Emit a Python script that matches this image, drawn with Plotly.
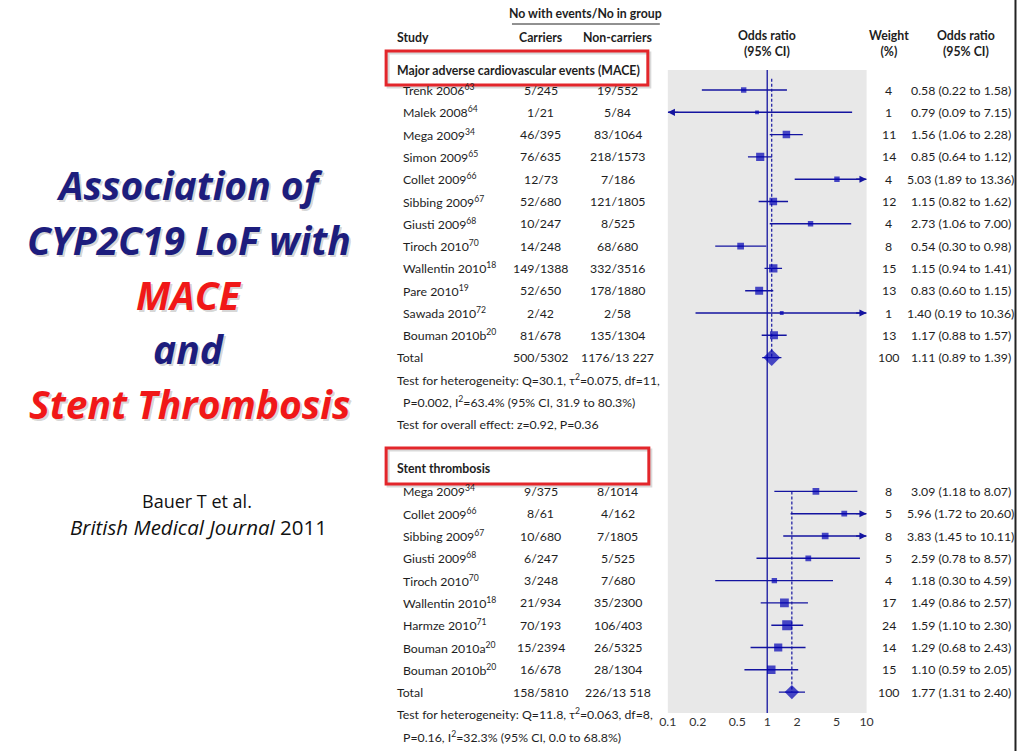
import math
import plotly.graph_objects as go

W, H = 1024, 751

# ---------------- data ----------------
mace_study = ["Trenk 2006", "Malek 2008", "Mega 2009", "Simon 2009", "Collet 2009", "Sibbing 2009",
              "Giusti 2009", "Tiroch 2010", "Wallentin 2010", "Pare 2010", "Sawada 2010", "Bouman 2010b"]
mace_ref = ["63", "64", "34", "65", "66", "67", "68", "70", "18", "19", "72", "20"]
mace_carriers = ["5/245", "1/21", "46/395", "76/635", "12/73", "52/680", "10/247", "14/248",
                 "149/1388", "52/650", "2/42", "81/678"]
mace_noncarriers = ["19/552", "5/84", "83/1064", "218/1573", "7/186", "121/1805", "8/525", "68/680",
                    "332/3516", "178/1880", "2/58", "135/1304"]
mace_weight = [4, 1, 11, 14, 4, 12, 4, 8, 15, 13, 1, 13]
mace_or = [0.58, 0.79, 1.56, 0.85, 5.03, 1.15, 2.73, 0.54, 1.15, 0.83, 1.40, 1.17]
mace_lo = [0.22, 0.09, 1.06, 0.64, 1.89, 0.82, 1.06, 0.30, 0.94, 0.60, 0.19, 0.88]
mace_hi = [1.58, 7.15, 2.28, 1.12, 13.36, 1.62, 7.00, 0.98, 1.41, 1.15, 10.36, 1.57]
mace_total_carriers = "500/5302"
mace_total_noncarriers = "1176/13 227"
mace_total_weight = 100
mace_total_or = 1.11
mace_total_lo = 0.89
mace_total_hi = 1.39
mace_stats = ["Test for heterogeneity: Q=30.1, τ<sup>2</sup>=0.075, df=11,",
              "P=0.002, I<sup>2</sup>=63.4% (95% CI, 31.9 to 80.3%)",
              "Test for overall effect: z=0.92, P=0.36"]

st_study = ["Mega 2009", "Collet 2009", "Sibbing 2009", "Giusti 2009", "Tiroch 2010", "Wallentin 2010",
            "Harmze 2010", "Bouman 2010a", "Bouman 2010b"]
st_ref = ["34", "66", "67", "68", "70", "18", "71", "20", "20"]
st_carriers = ["9/375", "8/61", "10/680", "6/247", "3/248", "21/934", "70/193", "15/2394", "16/678"]
st_noncarriers = ["8/1014", "4/162", "7/1805", "5/525", "7/680", "35/2300", "106/403", "26/5325", "28/1304"]
st_weight = [8, 5, 8, 5, 4, 17, 24, 14, 15]
st_or = [3.09, 5.96, 3.83, 2.59, 1.18, 1.49, 1.59, 1.29, 1.10]
st_lo = [1.18, 1.72, 1.45, 0.78, 0.30, 0.86, 1.10, 0.68, 0.59]
st_hi = [8.07, 20.60, 10.11, 8.57, 4.59, 2.57, 2.30, 2.43, 2.05]
st_total_carriers = "158/5810"
st_total_noncarriers = "226/13 518"
st_total_weight = 100
st_total_or = 1.77
st_total_lo = 1.31
st_total_hi = 2.40
st_stats = ["Test for heterogeneity: Q=11.8, τ<sup>2</sup>=0.063, df=8,",
            "P=0.16, I<sup>2</sup>=32.3% (95% CI, 0.0 to 68.8%)"]

tick_vals = [0.1, 0.2, 0.5, 1, 2, 5, 10]
tick_text = ["0.1", "0.2", "0.5", "1", "2", "5", "10"]
x_min, x_max = 0.1, 10

title_lines = [("Association of", "#1d1d7d"), ("CYP2C19 LoF with", "#1d1d7d"), ("MACE", "#f01818"),
               ("and", "#1d1d7d"), ("Stent Thrombosis", "#f01818")]

# ---------------- layout helpers ----------------
ROW0_PX, ROW_PX = 90.0, 22.3
FF = "Lato, sans-serif"
FS = 12.3
TXT = "#1e1e1e"
BLUE_LINE = "#1414a0"
BLUE_MARK = "#0000b4"
# the page is shown slightly narrowed; horizontal targets are corrected for it
SX, OX = 0.9854, 7.5


def row(px):
    return (px - ROW0_PX) / ROW_PX


def xp(px):
    return min(max((px - OX) / SX / W, 0), 1)


def yp(px):
    return 1 - px / H


X_STUDY, X_IND, X_CAR, X_NON, X_WT, X_OR, X_MID = 394, 400, 540, 617, 888, 960, 766
X_OR_HEAD = 965

mace_rows = list(range(len(mace_study)))
mace_total_row = len(mace_study)
st_first = mace_total_row + 6
st_rows = [st_first + i for i in range(len(st_study))]
st_total_row = st_first + len(st_study)

panel_top = row(70)
panel_bot = row(713)

annotations = []


def txt(xpx, yrow, s, anchor="left", size=FS, color=TXT, bold=False):
    annotations.append(dict(x=xp(xpx), y=yrow, xref="paper", yref="y", text=("<b>%s</b>" % s) if bold else s,
                            showarrow=False, xanchor=anchor, yanchor="middle",
                            font=dict(family=FF, size=size, color=color)))


def fmt_or(o, l, h):
    return "%.2f (%.2f to %.2f)" % (o, l, h)


# headers
txt(585, row(13), "No with events/No in group", "center", bold=True)
txt(X_STUDY, row(37), "Study", "left", bold=True)
txt(X_CAR, row(37), "Carriers", "center", bold=True)
txt(X_NON, row(37), "Non-carriers", "center", bold=True)
txt(X_MID, row(43.5), "Odds ratio<br>(95% CI)", "center", bold=True)
txt(X_WT, row(43.5), "Weight<br>(%)", "center", bold=True)
txt(X_OR_HEAD, row(43.5), "Odds ratio<br>(95% CI)", "center", bold=True)
txt(X_STUDY, row(70), "Major adverse cardiovascular events (MACE)", "left", bold=True)
txt(X_STUDY, row(468), "Stent thrombosis", "left", bold=True)


def section(studies, refs, car, non, wt, o, lo, hi, rows):
    for i, r in enumerate(rows):
        txt(X_IND, r, "%s<sup>%s</sup>" % (studies[i], refs[i]))
        txt(X_CAR, r, car[i], "center")
        txt(X_NON, r, non[i], "center")
        txt(X_WT, r, str(wt[i]), "center")
        txt(X_OR, r, fmt_or(o[i], lo[i], hi[i]), "center")


section(mace_study, mace_ref, mace_carriers, mace_noncarriers, mace_weight, mace_or, mace_lo, mace_hi, mace_rows)
section(st_study, st_ref, st_carriers, st_noncarriers, st_weight, st_or, st_lo, st_hi, st_rows)

for r, c, n, w, o, l, h in [(mace_total_row, mace_total_carriers, mace_total_noncarriers, mace_total_weight,
                             mace_total_or, mace_total_lo, mace_total_hi),
                            (st_total_row, st_total_carriers, st_total_noncarriers, st_total_weight,
                             st_total_or, st_total_lo, st_total_hi)]:
    txt(X_STUDY, r, "Total")
    txt(X_CAR, r, c, "center")
    txt(X_NON, r, n, "center")
    txt(X_WT, r, str(w), "center")
    txt(X_OR, r, fmt_or(o, l, h), "center")

txt(X_STUDY, mace_total_row + 1, mace_stats[0])
txt(X_IND, mace_total_row + 2, mace_stats[1])
txt(X_STUDY, mace_total_row + 3, mace_stats[2])
txt(X_STUDY, st_total_row + 1, st_stats[0])
txt(X_IND, st_total_row + 2, st_stats[1])

# left title
TITLE_FONT = "Open Sans, Lato, sans-serif"
for i, (s, col) in enumerate(title_lines):
    ypx = 185 + 54.5 * i
    for shadow in (True, False):
        annotations.append(dict(x=xp(188), y=yp(ypx), xref="paper", yref="paper",
                                text="<b><i>%s</i></b>" % s, showarrow=False,
                                xanchor="center", yanchor="middle",
                                xshift=2 if shadow else 0, yshift=-2 if shadow else 0,
                                font=dict(family=TITLE_FONT, size=39,
                                          color="rgba(0,0,0,0.18)" if shadow else col)))
annotations.append(dict(x=xp(196), y=yp(501), xref="paper", yref="paper", text="Bauer T et al.",
                        showarrow=False, xanchor="center", yanchor="middle",
                        font=dict(family=TITLE_FONT, size=18, color="#111")))
annotations.append(dict(x=xp(197), y=yp(527), xref="paper", yref="paper",
                        text="<i>British Medical Journal</i> 2011",
                        showarrow=False, xanchor="center", yanchor="middle",
                        font=dict(family=TITLE_FONT, size=20.5, color="#111")))

# ---------------- traces ----------------
fig = go.Figure()

all_or = mace_or + st_or
all_lo = mace_lo + st_lo
all_hi = mace_hi + st_hi
all_w = mace_weight + st_weight
all_rows = mace_rows + st_rows

cx, cy = [], []
for o, l, h, r in zip(all_or + [mace_total_or, st_total_or], all_lo + [mace_total_lo, st_total_lo],
                      all_hi + [mace_total_hi, st_total_hi], all_rows + [mace_total_row, st_total_row]):
    cx += [max(l, x_min), min(h, x_max), None]
    cy += [r, r, None]
    if h > x_max:
        annotations.append(dict(x=math.log10(x_max), y=r, xref="x", yref="y", ax=-12, ay=0,
                                axref="pixel", ayref="pixel", text="", showarrow=True,
                                arrowhead=2, arrowsize=1.1, arrowwidth=1.3, arrowcolor=BLUE_LINE))
    if l < x_min:
        annotations.append(dict(x=math.log10(x_min), y=r, xref="x", yref="y", ax=12, ay=0,
                                axref="pixel", ayref="pixel", text="", showarrow=True,
                                arrowhead=2, arrowsize=1.1, arrowwidth=1.3, arrowcolor=BLUE_LINE))

# reference lines
fig.add_trace(go.Scatter(x=[1, 1], y=[panel_top, panel_bot], mode="lines",
                         line=dict(color=BLUE_LINE, width=1.3), hoverinfo="skip", showlegend=False))
fig.add_trace(go.Scatter(x=[mace_total_or, mace_total_or, None, st_total_or, st_total_or],
                         y=[-0.5, mace_total_row, None, st_first, st_total_row], mode="lines",
                         line=dict(color=BLUE_LINE, width=1.2, dash="3px,2px"),
                         hoverinfo="skip", showlegend=False))
fig.add_trace(go.Scatter(x=cx, y=cy, mode="lines", line=dict(color=BLUE_LINE, width=1.4),
                         hoverinfo="skip", showlegend=False))
fig.add_trace(go.Scatter(x=all_or, y=all_rows, mode="markers",
                         marker=dict(symbol="square", color=BLUE_MARK,
                                     size=[1.6 * math.sqrt(w) + 2.2 for w in all_w], line=dict(width=0)),
                         showlegend=False))
fig.add_trace(go.Scatter(x=[mace_total_or, st_total_or], y=[mace_total_row, st_total_row], mode="markers",
                         marker=dict(symbol="diamond", color=BLUE_MARK, size=[13, 11], line=dict(width=0)),
                         showlegend=False))

shapes = [
    dict(type="rect", xref="x domain", yref="y", x0=0, x1=1, y0=panel_top, y1=panel_bot,
         fillcolor="#e8e8e8", line=dict(width=0), layer="below"),
    dict(type="line", xref="paper", yref="paper", x0=xp(511), x1=xp(659), y0=yp(24), y1=yp(24),
         line=dict(color="#222", width=1)),
    dict(type="rect", xref="paper", yref="paper", x0=xp(387), x1=xp(649), y0=yp(53), y1=yp(87),
         line=dict(color="rgba(0,0,0,0.15)", width=3), layer="below"),
    dict(type="rect", xref="paper", yref="paper", x0=xp(385), x1=xp(647), y0=yp(51), y1=yp(85),
         line=dict(color="#e3262b", width=3)),
    dict(type="rect", xref="paper", yref="paper", x0=xp(387), x1=xp(650), y0=yp(450), y1=yp(486),
         line=dict(color="rgba(0,0,0,0.15)", width=3), layer="below"),
    dict(type="rect", xref="paper", yref="paper", x0=xp(385), x1=xp(648), y0=yp(448), y1=yp(484),
         line=dict(color="#e3262b", width=3)),
    dict(type="line", xref="paper", yref="paper", x0=0.9985, x1=0.9985, y0=0, y1=1,
         line=dict(color="#222", width=2)),
]

fig.update_layout(
    width=W, height=H, margin=dict(l=0, r=0, t=0, b=0),
    autosize=False,
    paper_bgcolor="white", plot_bgcolor="white",
    showlegend=False,
    xaxis=dict(type="log", range=[math.log10(x_min), math.log10(x_max)], domain=[xp(667), xp(866)],
               anchor="free", position=yp(713), tickvals=tick_vals, ticktext=tick_text,
               showgrid=False, zeroline=False, showline=False, ticks="",
               tickfont=dict(family=FF, size=FS, color="#333")),
    yaxis=dict(range=[row(H), row(0)], domain=[0, 1], visible=False, showgrid=False, zeroline=False),
    shapes=shapes,
    annotations=annotations,
)

fig.write_html(
    "out.html",
    config={"displayModeBar": False, "responsive": False},
    post_script="document.documentElement.style.overflow='hidden';"
                "document.body.style.margin='0';document.body.style.overflow='hidden';",
)
